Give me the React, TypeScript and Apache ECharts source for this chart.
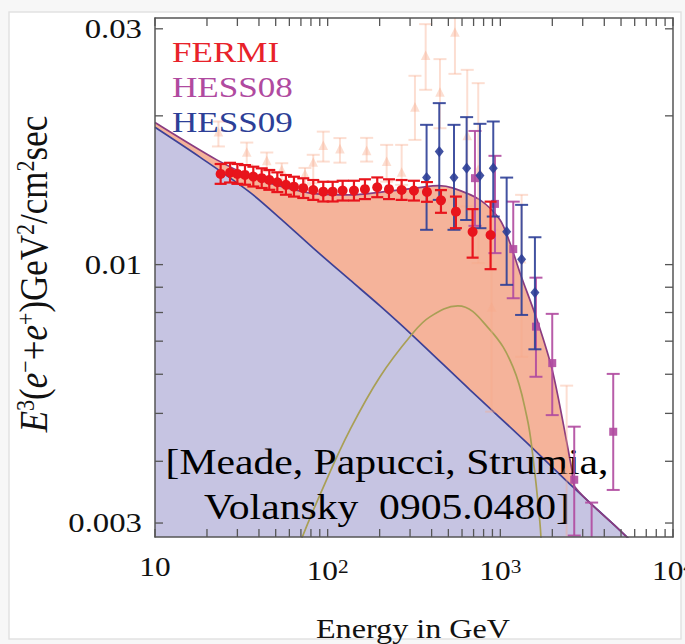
import React, { useEffect, useRef } from 'react';
import * as echarts from 'echarts';

const FONT = '"Liberation Serif", "Times New Roman", serif';

// axis ranges
const X_MIN = 10;
const X_MAX = 10000;
const Y_MIN = 0.002811;
const Y_MAX = 0.03155;

// ticks
const xMajorTicks = [10, 100, 1000, 10000];
const xTickLabels = ['10', '10{sup|2}', '10{sup|3}', '10{sup|4}'];
const xMinorTicks = [20, 30, 40, 50, 60, 70, 80, 90, 200, 300, 400, 500, 600, 700, 800, 900, 2000, 3000, 4000, 5000, 6000, 7000, 8000, 9000];
const yMajorTicks = [0.003, 0.01, 0.03];
const yTickLabels = ['0.003', '0.01', '0.03'];
const yMinorTicks = [0.004, 0.005, 0.006, 0.007, 0.008, 0.009, 0.02];

// model curves
const bgEnergy = [10, 18.2, 35.5, 55.1, 82.2, 134.6, 201, 307.6, 667, 1426, 2630, 4929, 7345];
const bgFlux = [0.01896, 0.0165, 0.014, 0.01226, 0.01081, 0.00931, 0.00825, 0.00721, 0.00558, 0.00436, 0.00355, 0.0029, 0.00253];

const totalEnergy = [10, 22.8, 35.5, 55.1, 86.7, 134.6, 209, 329, 440, 534, 762, 995, 1137, 1300, 1631, 2017, 2600, 2704, 4929, 7345];
const totalFlux = [0.01939, 0.01629, 0.01512, 0.01436, 0.0139, 0.01384, 0.01404, 0.0143, 0.01445, 0.01428, 0.01352, 0.01232, 0.01106, 0.00962, 0.00773, 0.00604, 0.00384, 0.00355, 0.0029, 0.00253];

const dmEnergy = [64.7, 70.7, 96.5, 134.6, 201, 306, 391, 568, 871, 1183, 1426, 1545, 1696, 1741];
const dmFlux = [0.00253, 0.00279, 0.00361, 0.00463, 0.00593, 0.00721, 0.00784, 0.00825, 0.00738, 0.00621, 0.00491, 0.00408, 0.003, 0.00253];

// FERMI
const fermiE = [24.0, 27.2, 30.0, 33.2, 37.1, 41.5, 45.9, 51.1, 57.3, 63.8, 72.2, 82.5, 94.3, 106.9, 122.1, 142.0, 164.4, 193.7, 226.5, 268.2, 316.0, 375.8, 453, 553, 691, 878];
const fermiFlux = [0.01526, 0.01535, 0.01526, 0.01519, 0.01507, 0.01496, 0.01484, 0.01468, 0.0145, 0.01438, 0.01428, 0.01416, 0.01405, 0.01405, 0.01412, 0.01412, 0.01421, 0.01434, 0.01421, 0.01416, 0.01412, 0.01403, 0.01349, 0.0128, 0.01165, 0.01148];
const fermiLo = [0.01457, 0.01466, 0.01457, 0.01451, 0.01439, 0.01429, 0.01417, 0.01402, 0.01385, 0.01373, 0.01364, 0.01352, 0.01342, 0.01342, 0.01348, 0.01348, 0.01357, 0.01369, 0.01357, 0.01352, 0.01348, 0.0134, 0.01273, 0.01185, 0.01033, 0.00979];
const fermiHi = [0.01598, 0.01607, 0.01598, 0.0159, 0.01578, 0.01566, 0.01554, 0.01537, 0.01518, 0.01506, 0.01495, 0.01483, 0.01471, 0.01471, 0.01478, 0.01478, 0.01488, 0.01501, 0.01488, 0.01483, 0.01478, 0.01469, 0.01415, 0.01373, 0.01295, 0.01341];

// HESS09
const hess09E = [374, 443, 539, 638, 762, 910, 1088, 1328, 1586];
const hess09Flux = [0.015, 0.01693, 0.015, 0.01567, 0.01514, 0.01567, 0.01166, 0.01025, 0.00878];
const hess09Lo = [0.01176, 0.01352, 0.01176, 0.01231, 0.01185, 0.01251, 0.0091, 0.00791, 0.00674];
const hess09Hi = [0.01918, 0.02122, 0.01918, 0.01988, 0.01927, 0.01948, 0.015, 0.01321, 0.01136];

// HESS08
const hess08E = [713, 931, 1188, 1608, 1998, 2679, 3379, 4506];
const hess08Flux = [0.01496, 0.01327, 0.01075, 0.00749, 0.00632, 0.00367, 0.0024, 0.00459];
const hess08Lo = [0.01198, 0.01055, 0.00855, 0.00593, 0.00496, 0.00283, 0.0019, 0.0035];
const hess08Hi = [0.01864, 0.0166, 0.01341, 0.00941, 0.00795, 0.0047, 0.0033, 0.00601];

// faint older data (ATIC-like)
const aticE = [23.3, 34.0, 44.4, 54.2, 73.9, 82.5, 94.3, 117.8, 168.2, 219.6, 268.2, 320.3, 369.4, 447.1, 545.9, 643.2, 744.7, 890.5, 1328, 2421];
const aticFlux = [0.01847, 0.01681, 0.01616, 0.0155, 0.01519, 0.01604, 0.01734, 0.01707, 0.01693, 0.0161, 0.01531, 0.02074, 0.02637, 0.02223, 0.0294, 0.01816, 0.0155, 0.00816, 0.01022, 0.00384];
const aticLo = [0.01734, 0.01591, 0.01543, 0.01484, 0.0145, 0.01462, 0.01616, 0.01608, 0.01616, 0.01472, 0.0145, 0.01788, 0.02258, 0.01888, 0.02432, 0.01311, 0.01007, 0.00504, 0.00651, 0.0027];
const aticHi = [0.01948, 0.01766, 0.01686, 0.01604, 0.01569, 0.01668, 0.01858, 0.01803, 0.01805, 0.01747, 0.01747, 0.0241, 0.03066, 0.02605, 0.03203, 0.02478, 0.02329, 0.01176, 0.01384, 0.00569];

const legendNames = ['FERMI', 'HESS08', 'HESS09'];
const legendColors = ['#e8222a', '#b04aa0', '#2d3f97'];
const noteLines = ['[Meade, Papucci, Strumia,', 'Volansky  0905.0480]'];

const TICK = 8;
const FRAME = '#555555';

function pairs(xs: number[], ys: number[]) {
  return xs.map((x, i) => [x, ys[i]]);
}

function markerEl(kind: string, c: number[], s: number, color: string, opacity: number) {
  const style = { fill: color, opacity };
  const [cx, cy] = c;
  if (kind === 'circle') return { type: 'circle', shape: { cx, cy, r: s }, style };
  if (kind === 'square') return { type: 'rect', shape: { x: cx - s, y: cy - s, width: 2 * s, height: 2 * s }, style };
  if (kind === 'diamond')
    return { type: 'polygon', shape: { points: [[cx, cy - s * 1.25], [cx + s, cy], [cx, cy + s * 1.25], [cx - s, cy]] }, style };
  return { type: 'polygon', shape: { points: [[cx, cy - s], [cx + s * 0.8, cy + s * 0.6], [cx - s * 0.8, cy + s * 0.6]] }, style };
}

function errorSeries(name: string, E: number[], F: number[], Lo: number[], Hi: number[], color: string, marker: string, opts: any) {
  return {
    type: 'custom',
    name,
    z: opts.z,
    clip: true,
    silent: true,
    data: E.map((e, i) => [e, F[i], Lo[i], Hi[i]]),
    encode: { x: 0, y: 1 },
    renderItem: (params: any, api: any) => {
      const x = api.value(0);
      const c = api.coord([x, api.value(1)]);
      const lo = api.coord([x, api.value(2)]);
      const hi = api.coord([x, api.value(3)]);
      const cw = opts.cap / 2;
      const st = { stroke: color, lineWidth: opts.lw, opacity: opts.opacity };
      return {
        type: 'group',
        children: [
          { type: 'line', shape: { x1: c[0], y1: lo[1], x2: c[0], y2: hi[1] }, style: st },
          { type: 'line', shape: { x1: c[0] - cw, y1: lo[1], x2: c[0] + cw, y2: lo[1] }, style: st },
          { type: 'line', shape: { x1: c[0] - cw, y1: hi[1], x2: c[0] + cw, y2: hi[1] }, style: st },
          markerEl(marker, c, opts.size, color, opts.opacity),
        ],
      };
    },
  };
}

function axisCommon(position: string) {
  return {
    type: 'log',
    logBase: 10,
    position,
    z: 10,
    axisLine: { show: true, onZero: false, lineStyle: { color: FRAME, width: 1.5 } },
    axisTick: { show: false },
    axisLabel: { show: false },
    splitLine: { show: false },
    minorTick: { show: false },
  };
}

const supStyle = (size: number) => ({ fontSize: size, fontFamily: FONT, fill: '#111', verticalAlign: 'top' });

function buildOption() {
  const xTickData = [
    ...xMajorTicks.map((v) => [v, Y_MIN]),
    ...xMinorTicks.map((v) => [v, Y_MIN]),
  ];
  const yTickData = [
    ...yMajorTicks.map((v) => [X_MIN, v]),
    ...yMinorTicks.map((v) => [X_MIN, v]),
  ];
  const tickStyle = { stroke: FRAME, lineWidth: 1.3 };

  return {
    animation: false,
    backgroundColor: '#f7f7f7',
    grid: { left: 155, top: 18, right: 12, bottom: 107, containLabel: false },
    xAxis: [
      { ...axisCommon('bottom'), min: X_MIN, max: X_MAX },
      { ...axisCommon('top'), min: X_MIN, max: X_MAX },
    ],
    yAxis: [
      { ...axisCommon('left'), min: Y_MIN, max: Y_MAX },
      { ...axisCommon('right'), min: Y_MIN, max: Y_MAX },
    ],
    graphic: [
      { type: 'rect', z: -10, silent: true, shape: { x: 9, y: 12, width: 672, height: 627 }, style: { fill: '#ffffff', stroke: '#e2e2e2', lineWidth: 1.5 } },
      ...legendNames.map((n, i) => ({
        type: 'text', z: 20, silent: true, x: 172, y: 52 + i * 35, scaleX: 1.17,
        style: { text: n, fontSize: 30, fontFamily: FONT, fill: legendColors[i], align: 'left', verticalAlign: 'middle' },
      })),
      ...noteLines.map((t, i) => ({
        type: 'text', z: 4, silent: true, x: 387, y: 462 + i * 45, scaleX: 1.19,
        style: { text: t, fontSize: 35, fontFamily: FONT, fill: '#000', align: 'center', verticalAlign: 'middle' },
      })),
      {
        type: 'text', z: 20, silent: true, x: 413, y: 628, scaleX: 1.17,
        style: { text: 'Energy in GeV', fontSize: 27.5, fontFamily: FONT, fill: '#111', align: 'center', verticalAlign: 'middle' },
      },
      {
        type: 'text', z: 20, silent: true, x: 33, y: 274, rotation: Math.PI / 2, scaleY: 1.17,
        style: {
          text: '{it|E}{sup|3}({it|e}{sup|\u2212}+{it|e}{sup|+})GeV{sup|2}/cm{sup|2}sec',
          fontSize: 35, fontFamily: FONT, fill: '#111', align: 'center', verticalAlign: 'middle',
          rich: {
            it: { fontSize: 35, fontFamily: FONT, fontStyle: 'italic', fill: '#111' },
            sup: supStyle(22),
          },
        },
      },
    ],
    series: [
      {
        type: 'line', name: 'totalArea', z: 1, silent: true, smooth: 0.3, symbol: 'none',
        data: pairs(totalEnergy, totalFlux),
        lineStyle: { width: 0, opacity: 0 },
        areaStyle: { color: '#f5b39a', opacity: 1, origin: 'start' },
      },
      {
        type: 'line', name: 'bgArea', z: 2, silent: true, smooth: 0.3, symbol: 'none',
        data: pairs(bgEnergy, bgFlux),
        lineStyle: { width: 0, opacity: 0 },
        areaStyle: { color: '#c6c4e2', opacity: 1, origin: 'start' },
      },
      {
        type: 'line', name: 'background', z: 3, silent: true, smooth: 0.3, symbol: 'none',
        data: pairs(bgEnergy, bgFlux),
        lineStyle: { width: 1.7, color: '#3d4197' },
      },
      {
        type: 'line', name: 'total', z: 3, silent: true, smooth: 0.3, symbol: 'none',
        data: pairs(totalEnergy, totalFlux),
        lineStyle: { width: 1.7, color: '#8a3c80' },
      },
      {
        type: 'line', name: 'DM', z: 3, silent: true, smooth: 0.4, symbol: 'none',
        data: pairs(dmEnergy, dmFlux),
        lineStyle: { width: 1.7, color: '#a99f55' },
      },
      errorSeries('ATIC', aticE, aticFlux, aticLo, aticHi, 'rgba(247,168,138,0.38)', 'triangle', { z: 5, cap: 13, lw: 2, size: 6, opacity: 1 }),
      errorSeries('HESS08', hess08E, hess08Flux, hess08Lo, hess08Hi, '#b04aa0', 'square', { z: 6, cap: 13, lw: 2, size: 4, opacity: 0.9 }),
      errorSeries('HESS09', hess09E, hess09Flux, hess09Lo, hess09Hi, '#2d3f97', 'diamond', { z: 6, cap: 13, lw: 2, size: 4.5, opacity: 0.9 }),
      errorSeries('FERMI', fermiE, fermiFlux, fermiLo, fermiHi, '#e8141c', 'circle', { z: 7, cap: 12, lw: 2.2, size: 5, opacity: 1 }),
      {
        type: 'custom', name: 'xTicks', z: 12, clip: false, silent: true,
        data: xTickData,
        encode: { x: 0, y: 1 },
        renderItem: (params: any, api: any) => {
          const cs = params.coordSys;
          const px = api.coord([api.value(0), Y_MIN])[0];
          const top = cs.y;
          const bottom = cs.y + cs.height;
          const children: any[] = [
            { type: 'line', shape: { x1: px, y1: bottom, x2: px, y2: bottom - TICK }, style: tickStyle },
            { type: 'line', shape: { x1: px, y1: top, x2: px, y2: top + TICK }, style: tickStyle },
          ];
          if (params.dataIndex < xMajorTicks.length) {
            const label = xTickLabels[params.dataIndex];
            const hasSup = label.indexOf('{') >= 0;
            children.push({
              type: 'text', x: px, y: bottom + (hasSup ? 34 : 30), scaleX: 1.12,
              style: {
                text: label, fontSize: 28, fontFamily: FONT, fill: '#111', align: 'center', verticalAlign: 'middle',
                rich: { sup: supStyle(19) },
              },
            });
          }
          return { type: 'group', children };
        },
      },
      {
        type: 'custom', name: 'yTicks', z: 12, clip: false, silent: true,
        data: yTickData,
        encode: { x: 0, y: 1 },
        renderItem: (params: any, api: any) => {
          const cs = params.coordSys;
          const py = api.coord([X_MIN, api.value(1)])[1];
          const left = cs.x;
          const right = cs.x + cs.width;
          const children: any[] = [
            { type: 'line', shape: { x1: left, y1: py, x2: left + TICK, y2: py }, style: tickStyle },
            { type: 'line', shape: { x1: right, y1: py, x2: right - TICK, y2: py }, style: tickStyle },
          ];
          if (params.dataIndex < yMajorTicks.length) {
            children.push({
              type: 'text', x: left - 13, y: py, scaleX: 1.17,
              style: {
                text: yTickLabels[params.dataIndex], fontSize: 28, fontFamily: FONT, fill: '#111',
                align: 'right', verticalAlign: 'middle',
              },
            });
          }
          return { type: 'group', children };
        },
      },
    ],
  };
}

export default function App() {
  const ref = useRef<HTMLDivElement>(null);
  useEffect(() => {
    if (!ref.current) return;
    const chart = echarts.init(ref.current, null, { renderer: 'svg' });
    chart.setOption(buildOption() as any);
    return () => {
      chart.dispose();
    };
  }, []);
  return <div ref={ref} style={{ position: 'absolute', left: 0, top: 0, width: 685, height: 644 }} />;
}
